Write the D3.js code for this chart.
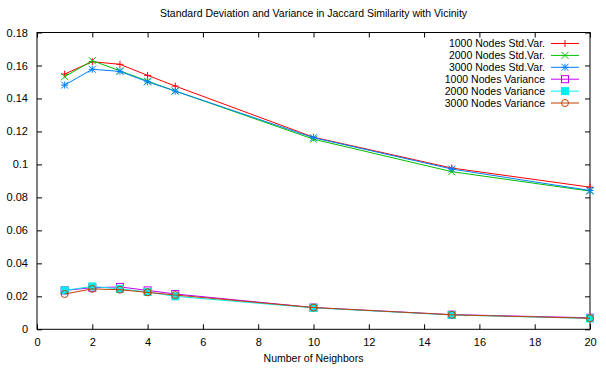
<!DOCTYPE html>
<html><head><meta charset="utf-8">
<script src="https://cdn.jsdelivr.net/npm/d3@7"></script>
<style>body{margin:0;background:#fff}svg{display:block}text{font-family:"Liberation Sans",Arial,sans-serif}</style>
</head><body><svg id="c" width="606" height="371"></svg>
<script>
const neighbors = [1, 2, 3, 4, 5, 10, 15, 20];
const std1000 = [0.1548, 0.1623, 0.1607, 0.1540, 0.1475, 0.1165, 0.0978, 0.0862];
const std2000 = [0.1532, 0.1629, 0.1568, 0.1505, 0.1445, 0.1153, 0.0956, 0.0838];
const std3000 = [0.1481, 0.1577, 0.1564, 0.1501, 0.1445, 0.1162, 0.0972, 0.0842];
const var1000 = [0.0236, 0.0252, 0.0257, 0.0236, 0.0214, 0.0132, 0.0089, 0.0070];
const var2000 = [0.0236, 0.0260, 0.0245, 0.0226, 0.0200, 0.0130, 0.0087, 0.0066];
const var3000 = [0.0214, 0.0245, 0.0240, 0.0224, 0.0208, 0.0132, 0.0088, 0.0067];
const seriesNames = ["1000 Nodes Std.Var.", "2000 Nodes Std.Var.", "3000 Nodes Std.Var.",
  "1000 Nodes Variance", "2000 Nodes Variance", "3000 Nodes Variance"];
const xTicks = [0, 2, 4, 6, 8, 10, 12, 14, 16, 18, 20];
const yTicks = [0, 0.02, 0.04, 0.06, 0.08, 0.1, 0.12, 0.14, 0.16, 0.18];
const title = "Standard Deviation and Variance in Jaccard Similarity with Vicinity";
const xLabel = "Number of Neighbors";

const colors = ["#ff0000", "#00c000", "#0080ff", "#c000ff", "#00eeee", "#c04000"];
const markers = ["plus", "cross", "star", "square", "fsquare", "circle"];
const allValues = [std1000, std2000, std3000, var1000, var2000, var3000];

const L = 37, R = 590, T = 32.5, B = 329.3;
const svg = d3.select("#c");
const x = d3.scaleLinear().domain([0, 20]).range([L, R]);
const y = d3.scaleLinear().domain([0, 0.18]).range([B, T]);

svg.append("rect").attr("x", L).attr("y", T).attr("width", R - L).attr("height", B - T)
  .attr("fill", "none").attr("stroke", "#000").attr("stroke-width", 1);

const fmtY = d => d === 0 ? "0" : String(+d.toFixed(2));
const axB = svg.append("g").attr("transform", `translate(0,${B})`)
  .call(d3.axisBottom(x).tickValues(xTicks).tickSize(-5).tickPadding(9).tickFormat(d3.format("d")));
const axT = svg.append("g").attr("transform", `translate(0,${T})`)
  .call(d3.axisTop(x).tickValues(xTicks).tickSize(-5).tickFormat(""));
const axL = svg.append("g").attr("transform", `translate(${L},0)`)
  .call(d3.axisLeft(y).tickValues(yTicks).tickSize(-5).tickPadding(9).tickFormat(fmtY));
const axR = svg.append("g").attr("transform", `translate(${R},0)`)
  .call(d3.axisRight(y).tickValues(yTicks).tickSize(-5).tickFormat(""));
[axB, axT, axL, axR].forEach(g => {
  g.select(".domain").remove();
  g.selectAll("line").attr("stroke", "#000");
  g.selectAll("text").attr("font-size", 11).attr("fill", "#000").attr("font-family", "Liberation Sans, Arial, sans-serif");
});

svg.append("text").attr("x", (L + R) / 2).attr("y", 17).attr("text-anchor", "middle")
  .attr("font-size", 10.5).text(title);
svg.append("text").attr("x", (L + R) / 2).attr("y", 362).attr("text-anchor", "middle")
  .attr("font-size", 10.5).text(xLabel);

function drawMarker(g, type, cx, cy, color) {
  const s = 3.5;
  if (type === "plus" || type === "star") {
    g.append("path").attr("d", `M${cx - s},${cy}H${cx + s}M${cx},${cy - s}V${cy + s}`)
      .attr("stroke", color).attr("stroke-width", 1).attr("fill", "none");
  }
  if (type === "cross" || type === "star") {
    g.append("path").attr("d", `M${cx - s},${cy - s}L${cx + s},${cy + s}M${cx - s},${cy + s}L${cx + s},${cy - s}`)
      .attr("stroke", color).attr("stroke-width", 1).attr("fill", "none");
  }
  if (type === "square") {
    g.append("rect").attr("x", cx - 3.5).attr("y", cy - 3.5).attr("width", 7).attr("height", 7)
      .attr("stroke", color).attr("fill", "none").attr("stroke-width", 1);
  }
  if (type === "fsquare") {
    g.append("rect").attr("x", cx - 4).attr("y", cy - 4).attr("width", 8).attr("height", 8)
      .attr("fill", color);
  }
  if (type === "circle") {
    g.append("circle").attr("cx", cx).attr("cy", cy).attr("r", 3.5)
      .attr("stroke", color).attr("fill", "none").attr("stroke-width", 1);
  }
}

const line = d3.line().x(d => x(d[0])).y(d => y(d[1]));
allValues.forEach((vals, i) => {
  const g = svg.append("g");
  const pts = neighbors.map((n, j) => [n, vals[j]]);
  g.append("path").datum(pts).attr("d", line).attr("fill", "none")
    .attr("stroke", colors[i]).attr("stroke-width", 1);
  pts.forEach(p => drawMarker(g, markers[i], x(p[0]), y(p[1]), colors[i]));
});

const lgText = 545, lgX1 = 551, lgX2 = 579, lgY0 = 43.5, lgDy = 11.9;
seriesNames.forEach((name, i) => {
  const yy = lgY0 + i * lgDy;
  const g = svg.append("g");
  g.append("text").attr("x", lgText).attr("y", yy + 3.8).attr("text-anchor", "end")
    .attr("font-size", 10.5).text(name);
  g.append("line").attr("x1", lgX1).attr("x2", lgX2).attr("y1", yy).attr("y2", yy)
    .attr("stroke", colors[i]).attr("stroke-width", 1);
  drawMarker(g, markers[i], (lgX1 + lgX2) / 2, yy, colors[i]);
});
</script></body></html>
